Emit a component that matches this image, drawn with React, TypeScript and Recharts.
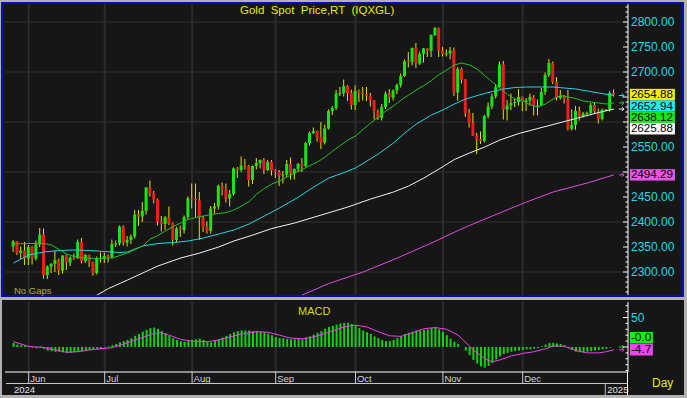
import React from 'react';
import { ComposedChart, Bar, Line, XAxis, YAxis, CartesianGrid, ReferenceDot } from 'recharts';

const FONT = '"Liberation Sans", Arial, sans-serif';

// x positions are candle indices (one per weekday, 2024-05-28 .. 2025-01-03)
const monthIdx = [4, 24, 47, 69, 90, 113, 134];
const monthLabels = ['Jun', 'Jul', 'Aug', 'Sep', 'Oct', 'Nov', 'Dec'];
const yearIdx = [0, 156];
const yearLabels = ['2024', '2025'];

const opens = [
  2351, 2361, 2338, 2343,
  2327, 2350, 2327, 2355, 2375, 2294, 2311, 2316, 2324, 2303, 2333, 2319, 2329, 2328, 2360, 2322, 2334, 2320, 2298, 2327,
  2326, 2332, 2330, 2356, 2357, 2391, 2359, 2364, 2371, 2415, 2411, 2422, 2469, 2458, 2445, 2400, 2396, 2409, 2397, 2364, 2387, 2384, 2410,
  2447, 2446, 2443, 2409, 2390, 2382, 2427, 2431, 2472, 2465, 2447, 2456, 2507, 2504, 2513, 2512, 2484, 2512, 2518, 2524, 2504, 2520,
  2503, 2500, 2493, 2495, 2516, 2497, 2506, 2516, 2512, 2558, 2578, 2582, 2570, 2559, 2587, 2622, 2628, 2657, 2658, 2672, 2658,
  2634, 2662, 2658, 2656, 2653, 2643, 2622, 2608, 2630, 2657, 2649, 2663, 2674, 2692, 2721, 2720, 2748, 2717, 2736, 2747, 2742, 2774, 2788,
  2743, 2736, 2737, 2743, 2659, 2706, 2685, 2618, 2598, 2573, 2565, 2562, 2612, 2631, 2651, 2670, 2715, 2625, 2633, 2638, 2640,
  2650, 2640, 2643, 2650, 2632, 2633, 2660, 2694, 2718, 2680, 2648, 2652, 2646, 2586, 2594, 2622, 2612, 2617, 2618, 2634, 2621, 2606,
  2624, 2625, 2658,
];
const highs = [
  2364, 2362, 2351, 2360,
  2354, 2352, 2363, 2388, 2387, 2313, 2318, 2342, 2327, 2333, 2335, 2331, 2337, 2365, 2368, 2336, 2335, 2321, 2331, 2339,
  2339, 2335, 2365, 2363, 2393, 2393, 2372, 2375, 2424, 2424, 2440, 2470, 2483, 2462, 2447, 2412, 2412, 2431, 2399, 2390, 2393, 2413, 2451,
  2477, 2477, 2460, 2412, 2401, 2432, 2438, 2475, 2479, 2477, 2464, 2509, 2510, 2531, 2526, 2514, 2513, 2528, 2525, 2528, 2524, 2524,
  2506, 2504, 2502, 2524, 2529, 2507, 2518, 2528, 2560, 2581, 2589, 2583, 2600, 2595, 2625, 2632, 2664, 2670, 2685, 2674, 2665,
  2673, 2665, 2670, 2670, 2658, 2644, 2625, 2636, 2661, 2666, 2665, 2677, 2697, 2725, 2740, 2749, 2758, 2741, 2748, 2748, 2775, 2790, 2789,
  2750, 2745, 2750, 2749, 2710, 2709, 2686, 2626, 2618, 2578, 2581, 2614, 2639, 2657, 2674, 2721, 2722, 2644, 2657, 2647, 2666,
  2651, 2648, 2657, 2654, 2645, 2668, 2699, 2726, 2721, 2690, 2664, 2654, 2664, 2625, 2632, 2631, 2620, 2621, 2638, 2640, 2627, 2627,
  2626, 2662, 2665,
];
const lows = [
  2340, 2334, 2326, 2314,
  2314, 2315, 2323, 2350, 2287, 2286, 2298, 2300, 2294, 2297, 2304, 2312, 2324, 2326, 2317, 2318, 2310, 2293, 2295, 2319,
  2318, 2319, 2327, 2350, 2353, 2353, 2351, 2356, 2367, 2392, 2400, 2415, 2451, 2437, 2393, 2381, 2384, 2394, 2353, 2360, 2370, 2377, 2405,
  2427, 2410, 2364, 2380, 2377, 2377, 2417, 2425, 2453, 2439, 2431, 2453, 2488, 2500, 2505, 2471, 2476, 2505, 2507, 2496, 2502, 2493,
  2488, 2472, 2477, 2490, 2485, 2485, 2500, 2500, 2510, 2553, 2576, 2561, 2546, 2555, 2585, 2614, 2624, 2652, 2651, 2642, 2625,
  2624, 2640, 2643, 2642, 2631, 2605, 2604, 2603, 2626, 2638, 2643, 2656, 2669, 2690, 2709, 2713, 2708, 2714, 2719, 2730, 2730, 2772, 2730,
  2731, 2731, 2725, 2652, 2643, 2677, 2610, 2589, 2572, 2536, 2556, 2559, 2607, 2626, 2647, 2668, 2605, 2603, 2624, 2630, 2633,
  2622, 2622, 2633, 2613, 2613, 2632, 2654, 2690, 2676, 2643, 2645, 2637, 2583, 2583, 2584, 2603, 2609, 2612, 2616, 2616, 2597, 2603,
  2622, 2621, 2651,
];
const closes = [
  2361, 2338, 2343, 2327,
  2350, 2327, 2355, 2375, 2294, 2311, 2316, 2324, 2303, 2333, 2319, 2329, 2328, 2360, 2322, 2334, 2320, 2298, 2327, 2326,
  2332, 2330, 2356, 2357, 2391, 2359, 2364, 2371, 2415, 2411, 2422, 2469, 2458, 2445, 2400, 2396, 2409, 2397, 2364, 2387, 2384, 2410, 2447,
  2446, 2443, 2409, 2390, 2382, 2427, 2431, 2472, 2465, 2447, 2456, 2507, 2504, 2513, 2512, 2484, 2512, 2518, 2524, 2504, 2520, 2503,
  2500, 2493, 2495, 2516, 2497, 2506, 2516, 2512, 2558, 2578, 2582, 2570, 2559, 2587, 2622, 2628, 2657, 2658, 2672, 2658, 2634,
  2662, 2658, 2656, 2653, 2643, 2622, 2608, 2630, 2657, 2649, 2663, 2674, 2692, 2721, 2720, 2748, 2717, 2736, 2747, 2742, 2774, 2788, 2743,
  2736, 2737, 2743, 2659, 2706, 2685, 2618, 2598, 2573, 2565, 2562, 2612, 2631, 2651, 2670, 2715, 2625, 2633, 2638, 2640, 2650,
  2640, 2643, 2650, 2632, 2633, 2660, 2694, 2718, 2680, 2648, 2652, 2646, 2586, 2594, 2622, 2612, 2617, 2618, 2634, 2621, 2606, 2624,
  2625, 2658, 2654.88,
];

// moving averages read at sample candles: [index, value]
const ma20Pts: [number, number][] = [
  [0, 2356], [4, 2357], [8, 2357], [10, 2354], [12, 2345], [14, 2336], [16, 2331], [18, 2328], [22, 2327], [26, 2328],
  [28, 2333], [30, 2338], [32, 2345], [34, 2352], [36, 2366], [38, 2373], [40, 2382], [42, 2391], [44, 2398], [46, 2405],
  [48, 2409], [50, 2412], [52, 2415], [54, 2417], [56, 2419], [58, 2424], [60, 2432], [62, 2441], [64, 2456], [66, 2467],
  [68, 2476], [70, 2482], [72, 2490], [74, 2498], [76, 2505], [78, 2513], [80, 2520], [82, 2530], [84, 2542], [86, 2553],
  [88, 2564], [90, 2572], [92, 2585], [94, 2598], [96, 2610], [98, 2622], [100, 2632], [102, 2644], [104, 2654], [106, 2664],
  [108, 2673], [110, 2683], [112, 2695], [114, 2704], [116, 2714], [118, 2718], [120, 2714], [122, 2706], [124, 2693], [126, 2680],
  [128, 2668], [130, 2655], [132, 2646], [134, 2643], [136, 2634], [138, 2630], [140, 2636], [142, 2646], [144, 2653], [146, 2650],
  [148, 2647], [150, 2642], [152, 2640], [154, 2638], [156, 2636], [158, 2638.12],
];
const ma50Pts: [number, number][] = [
  [0, 2318], [4, 2334], [8, 2340], [12, 2343], [16, 2344], [20, 2343], [24, 2341], [28, 2339], [30, 2340], [34, 2352],
  [38, 2357], [42, 2359], [46, 2362], [50, 2368], [54, 2376], [58, 2384], [62, 2396], [66, 2412], [70, 2428], [75, 2450],
  [79, 2470], [83, 2488], [87, 2499], [90, 2508], [93, 2522], [96, 2536], [100, 2558], [103, 2578], [106, 2596], [110, 2614],
  [113, 2624], [116, 2636], [119, 2646], [123, 2655], [126, 2661], [129, 2666], [132, 2669], [135, 2670], [139, 2670], [142, 2670],
  [145, 2668], [148, 2666], [151, 2662], [154, 2658], [158, 2652.94],
];
const ma100Pts: [number, number][] = [
  [18, 2236], [22, 2254], [25, 2267], [30, 2284], [34, 2298], [38, 2312], [44, 2328], [49, 2338], [54, 2350], [58, 2362],
  [63, 2374], [68, 2387], [74, 2398], [81, 2414], [88, 2430], [94, 2446], [100, 2460], [104, 2472], [108, 2488], [112, 2506],
  [116, 2525], [120, 2538], [124, 2550], [128, 2564], [133, 2577], [138, 2587], [143, 2597], [149, 2609], [154, 2619], [158, 2625.88],
];
const ma200Pts: [number, number][] = [
  [72, 2244], [76, 2254], [83, 2277], [92, 2300], [101, 2328], [110, 2358], [117, 2383], [120, 2393], [126, 2412], [135, 2440],
  [142, 2460], [151, 2478], [158, 2494.29],
];

const macdBars = [
  7, 4, 3, 2, 1,
  -1, -2, 1, -3, -6,
  -7, -8, -8, -9, -10,
  -10, -9, -8, -7, -6,
  -5, -5, -4, -3,
  -1, 1, 3, 5, 8, 10,
  12, 15, 19, 22, 26, 29,
  32, 33, 31, 27, 23,
  19, 15, 12, 10, 9, 10,
  12, 13, 14, 12, 9, 8,
  10, 13, 16, 19, 22, 25,
  27, 28, 28, 28, 27, 27,
  26, 25, 23, 20, 17, 15,
  15, 14, 13, 13, 14, 13,
  16, 18, 21, 24, 27, 31,
  34, 36, 38, 40, 41, 41,
  39, 36, 32, 28, 25, 22,
  18, 15, 12, 10, 10, 12,
  15, 18, 22, 24, 26, 28,
  28, 29, 30, 32, 33, 30,
  26, 20, 14, 9, 5, 0,
  -6, -14, -22, -28, -33, -35,
  -32, -27, -21, -16, -12, -10,
  -8, -7, -6, -5, -4, -4,
  -3, -2, 1, 4, 7, 7,
  6, 5, 3, -2, -5, -8,
  -9, -9, -8, -7, -6, -5,
  -4, -3, -1, -0.03,
];
const signalPts: [number, number][] = [
  [0, 9], [4, 1], [8, -1], [11, -5], [14, -9], [17, -8], [20, -5], [23, -3], [26, -1], [29, 5],
  [33, 14], [37, 23], [39, 24], [41, 20], [44, 13], [47, 10], [51, 9], [54, 12], [57, 17], [60, 22],
  [64, 26], [67, 25], [70, 20], [73, 15], [76, 14], [79, 17], [83, 25], [87, 34], [90, 37], [93, 34],
  [96, 26], [99, 19], [102, 18], [105, 24], [108, 31], [111, 33], [114, 30], [117, 20], [119, 8], [121, -5],
  [124, -20], [126, -25], [128, -22], [131, -15], [134, -11], [137, -8], [140, -3], [142, 2], [145, 1], [148, -6],
  [151, -10], [154, -10], [156, -8], [158, -4.7],
];

const priceTicks: number[] = [];
for (let v = 2260; v <= 2830; v += 10) priceTicks.push(v);
const macdTicks: number[] = [];
for (let v = -40; v <= 70; v += 10) macdTicks.push(v);
const gridPrices = [2300, 2400, 2500, 2600, 2700, 2800];

const LAST = closes.length - 1;
const lastOf = (pts: [number, number][]) => pts[pts.length - 1][1];

const priceRows: any[] = closes.map((c, i) => ({
  i, o: opens[i], h: highs[i], l: lows[i], c, range: [lows[i], highs[i]],
  ma20: null, ma50: null, ma100: null, ma200: null,
}));
ma20Pts.forEach(([i, v]) => (priceRows[i].ma20 = v));
ma50Pts.forEach(([i, v]) => (priceRows[i].ma50 = v));
ma100Pts.forEach(([i, v]) => (priceRows[i].ma100 = v));
ma200Pts.forEach(([i, v]) => (priceRows[i].ma200 = v));

const macdRows: any[] = macdBars.map((m, i) => ({ i, macd: m, sig: null }));
signalPts.forEach(([i, v]) => (macdRows[i].sig = v));

const X_DOMAIN: [number, number] = [-2.2368, 161.711];
const PRICE_DOMAIN: [number, number] = [2254, 2836];
const MACD_DOMAIN: [number, number] = [-42.4, 76.3];
const PRICE_PLOT_H = 291;
const BOX_H = 11.4;
const PX_PER_UNIT = PRICE_PLOT_H / (PRICE_DOMAIN[1] - PRICE_DOMAIN[0]);

// axis labels hidden behind the value boxes on the right axis
const coveredByBoxes = (v: number) => {
  const u = BOX_H / PX_PER_UNIT;
  const c = closes[LAST];
  const inStack = v <= c + u / 2 && v >= c - 3.5 * u;
  const inMa200 = Math.abs(v - lastOf(ma200Pts)) <= u / 2;
  return inStack || inMa200;
};

const Candle = (props: any) => {
  const { x, y, width, height, payload } = props;
  if (!payload || !isFinite(y) || !isFinite(height)) return null;
  const { o, h, l, c } = payload;
  const cx = x + width / 2;
  const k = height / (h - l);
  const Y = (v: number) => y + (h - v) * k;
  const up = c >= o;
  const top = Y(Math.max(o, c));
  const bot = Y(Math.min(o, c));
  return (
    <g>
      <line x1={cx} x2={cx} y1={y} y2={y + height} stroke="#e6dc10" strokeWidth={1} />
      <rect x={cx - 1.5} y={top} width={3} height={Math.max(bot - top, 1)} fill={up ? '#14e614' : '#f01c1c'} />
    </g>
  );
};

const RightTick = (props: any) => {
  const { x, y, payload, fmt, labelIf } = props;
  const v = payload.value as number;
  const major = v % 50 === 0;
  return (
    <g>
      <line x1={x - (major ? 5 : 2.5)} x2={x} y1={y} y2={y} stroke="#ffffff" strokeWidth={1} />
      {major && labelIf(v) && (
        <text x={x + 3} y={y} dy="0.36em" fill="#22d8e6" fontSize={12} fontFamily={FONT}>
          {fmt(v)}
        </text>
      )}
    </g>
  );
};

const LeftTick = (props: any) => {
  const { x, y, payload } = props;
  const v = payload.value as number;
  const major = v % 50 === 0;
  return <line x1={x} x2={x + (major ? 5 : 2.5)} y1={y} y2={y} stroke="#ffffff" strokeWidth={1} />;
};

const DateTick = (props: any) => {
  const { x, y, payload } = props;
  const v = payload.value as number;
  const m = monthIdx.indexOf(v);
  const yr = yearIdx.indexOf(v);
  return (
    <g fontFamily={FONT}>
      {m >= 0 && (
        <>
          <line x1={x} x2={x} y1={y} y2={y + 11} stroke="#cfcfcf" strokeWidth={1} />
          <text x={x + 1.5} y={y + 9.5} fill="#d4d4dc" fontSize={9.5}>{monthLabels[m]}</text>
        </>
      )}
      {yr >= 0 && (
        <>
          {yr > 0 && <line x1={x - 1} x2={x - 1} y1={y + 11} y2={y + 23} stroke="#bdbdbd" strokeWidth={1} />}
          <text x={x + (yr > 0 ? 1 : 0.5)} y={y + 20.5} fill="#e4e4e4" fontSize={9.5}>{yearLabels[yr]}</text>
        </>
      )}
    </g>
  );
};

const arrow = (color: string) => (p: any) => (
  <path
    d={`M${p.cx + 5},${p.cy} L${p.cx + 10},${p.cy} M${p.cx + 8},${p.cy - 2} L${p.cx + 10},${p.cy} L${p.cx + 8},${p.cy + 2}`}
    stroke={color}
    fill="none"
    strokeWidth={1}
  />
);

const Box = ({ x, cy, w, h, bg, text, tl }: any) => (
  <g>
    <rect x={x} y={cy - h / 2} width={w} height={h} fill={bg} />
    <text
      x={x + 1} y={cy} dy="0.36em" fontSize={10} fill="#000" fontFamily={FONT}
      textLength={tl} lengthAdjust="spacingAndGlyphs"
    >
      {text}
    </text>
  </g>
);

const priceBoxes = (p: any) => {
  const items = [
    { t: closes[LAST].toFixed(2), bg: '#f4f000' },
    { t: lastOf(ma50Pts).toFixed(2), bg: '#22eaf2' },
    { t: lastOf(ma20Pts).toFixed(2), bg: '#16ea16' },
    { t: lastOf(ma100Pts).toFixed(2), bg: '#ffffff' },
  ];
  return (
    <g>
      {items.map((it, k) => (
        <Box key={k} x={p.cx + 16} cy={p.cy + k * BOX_H} w={45} h={BOX_H} bg={it.bg} text={it.t} tl={42} />
      ))}
    </g>
  );
};

const ma200Box = (p: any) => (
  <g>
    {arrow('#e04ce0')(p)}
    <Box x={p.cx + 16} cy={p.cy} w={45} h={BOX_H} bg="#e855e8" text={lastOf(ma200Pts).toFixed(2)} tl={42} />
  </g>
);

const macdBoxes = (p: any) => (
  <g>
    {arrow('#f040f0')(p)}
    <Box x={p.cx + 16} cy={p.cy - 12} w={23} h={11.5} bg="#14f014" text={macdBars[LAST].toFixed(1)} tl={20.5} />
    <Box x={p.cx + 16} cy={p.cy} w={23} h={11.5} bg="#f044f0" text={lastOf(signalPts).toFixed(1)} tl={20.5} />
  </g>
);

const txt = (s: React.CSSProperties): React.CSSProperties => ({
  position: 'absolute', whiteSpace: 'pre', fontFamily: FONT, ...s,
});

export default function App() {
  return (
    <div style={{ position: 'absolute', left: 0, top: 0, width: 687, height: 398, background: '#b2b2b2', overflow: 'hidden' }}>
      <div
        style={{
          position: 'absolute', left: 1, top: 2, width: 683, height: 295, boxSizing: 'border-box',
          borderStyle: 'solid', borderColor: '#0a0ab8', borderWidth: '2px 3px 2px 3px', background: '#161616',
        }}
      />
      <div style={{ position: 'absolute', left: 2, top: 300, width: 682, height: 95, background: '#161616' }} />

      <div style={{ position: 'absolute', left: 5, top: 4 }}>
        <ComposedChart width={679} height={PRICE_PLOT_H} data={priceRows} margin={{ top: 0, right: 0, bottom: 0, left: 0 }}>
          <XAxis type="number" dataKey="i" domain={X_DOMAIN} allowDataOverflow hide />
          <YAxis
            orientation="right" domain={PRICE_DOMAIN} allowDataOverflow ticks={priceTicks} interval={0} width={56}
            tickLine={false} tickSize={0} tickMargin={0} axisLine={{ stroke: '#ffffff' }}
            tick={<RightTick fmt={(v: number) => v.toFixed(2)} labelIf={(v: number) => !coveredByBoxes(v)} />}
          />
          <YAxis
            yAxisId="L" orientation="left" domain={PRICE_DOMAIN} allowDataOverflow ticks={priceTicks} interval={0} width={0}
            tickLine={false} tickSize={0} tickMargin={0} axisLine={{ stroke: '#ffffff' }} tick={<LeftTick />}
          />
          <CartesianGrid horizontal vertical={false} horizontalValues={gridPrices} stroke="#303030" strokeWidth={1} />
          <CartesianGrid horizontal={false} vertical verticalValues={monthIdx} stroke="#2c2c2c" strokeWidth={2} />
          <Bar dataKey="range" barSize={3} isAnimationActive={false} shape={Candle} />
          <Line dataKey="ma200" stroke="#e04ce0" strokeWidth={1} dot={false} connectNulls isAnimationActive={false} />
          <Line dataKey="ma100" stroke="#f2f2f2" strokeWidth={1} dot={false} connectNulls isAnimationActive={false} />
          <Line dataKey="ma50" stroke="#22d4e4" strokeWidth={1} dot={false} connectNulls isAnimationActive={false} />
          <Line dataKey="ma20" stroke="#22c222" strokeWidth={1} dot={false} connectNulls isAnimationActive={false} />
          <ReferenceDot x={LAST} y={lastOf(ma50Pts)} r={0} shape={arrow('#22e0f0')} />
          <ReferenceDot x={LAST} y={lastOf(ma20Pts)} r={0} shape={arrow('#22d022')} />
          <ReferenceDot x={LAST} y={lastOf(ma100Pts)} r={0} shape={arrow('#f0f0f0')} />
          <ReferenceDot x={LAST} y={lastOf(ma200Pts)} r={0} shape={ma200Box} />
          <ReferenceDot x={LAST} y={closes[LAST]} r={0} shape={priceBoxes} />
        </ComposedChart>
      </div>

      <div style={{ position: 'absolute', left: 5, top: 302 }}>
        <ComposedChart width={679} height={93} data={macdRows} margin={{ top: 0, right: 0, bottom: 0, left: 0 }}>
          <XAxis
            type="number" dataKey="i" domain={X_DOMAIN} allowDataOverflow height={23}
            ticks={[...yearIdx.slice(0, 1), ...monthIdx, ...yearIdx.slice(1)]} interval={0}
            tickLine={false} tickSize={0} tickMargin={0} axisLine={{ stroke: '#ffffff' }} tick={<DateTick />}
          />
          <YAxis
            orientation="right" domain={MACD_DOMAIN} allowDataOverflow ticks={macdTicks} interval={0} width={56}
            tickLine={false} tickSize={0} tickMargin={0} axisLine={{ stroke: '#ffffff' }}
            tick={<RightTick fmt={(v: number) => String(v)} labelIf={(v: number) => v > 0} />}
          />
          <YAxis
            yAxisId="L" orientation="left" domain={MACD_DOMAIN} allowDataOverflow ticks={macdTicks} interval={0} width={0}
            tickLine={false} tickSize={0} tickMargin={0} axisLine={{ stroke: '#ffffff' }} tick={<LeftTick />}
          />
          <CartesianGrid horizontal={false} vertical verticalValues={monthIdx} stroke="#2c2c2c" strokeWidth={2} />
          <Bar dataKey="macd" barSize={2} fill="#12d012" isAnimationActive={false} />
          <Line dataKey="sig" stroke="#f040f0" strokeWidth={1} dot={false} connectNulls isAnimationActive={false} />
          <ReferenceDot x={LAST} y={macdBars[LAST]} r={0} shape={arrow('#14e014')} />
          <ReferenceDot x={LAST} y={lastOf(signalPts)} r={0} shape={macdBoxes} />
        </ComposedChart>
      </div>

      <div style={{ position: 'absolute', left: 6, top: 383, width: 622, height: 1, background: '#c8c8c8' }} />
      <div style={{ position: 'absolute', left: 627, top: 372, width: 1, height: 23, background: '#ffffff' }} />

      <div style={txt({ left: 240, top: 4, fontSize: 11.5, lineHeight: '13px', color: '#e8e800' })}>
        {'Gold  Spot  Price,RT  (IQXGL)'}
      </div>
      <div style={txt({ left: 14, top: 286, fontSize: 9.5, lineHeight: '10px', color: '#b4ac3c' })}>{'No Gaps'}</div>
      <div style={txt({ left: 298, top: 305, fontSize: 11, lineHeight: '12px', color: '#d8d800' })}>{'MACD'}</div>
      <div style={txt({ left: 652, top: 376, fontSize: 12, lineHeight: '14px', color: '#e8e800' })}>{'Day'}</div>
    </div>
  );
}
